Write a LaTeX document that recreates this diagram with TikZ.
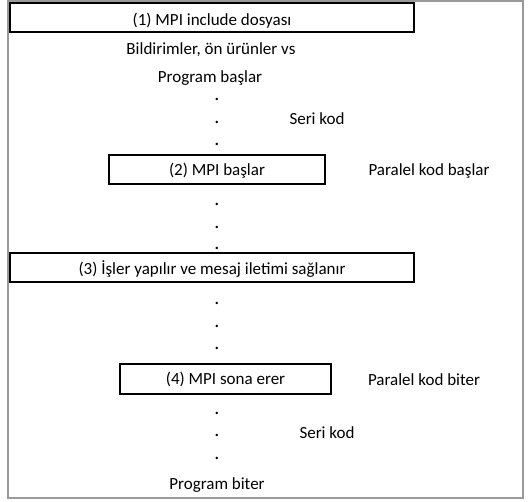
\documentclass[tikz,border=0pt]{standalone}
\usepackage{fontspec}
\setmainfont{Carlito}
\begin{document}
\begin{tikzpicture}[x=1pt,y=-1pt,
  every node/.style={font=\fontsize{17}{20}\selectfont, inner sep=0pt},
  stepbox/.style={draw=black, line width=1.6pt, minimum height=29pt, text depth=3pt},
  lbl/.style={anchor=center},
  dotn/.style={font=\fontsize{20}{20}\selectfont}]
\useasboundingbox (0,0) rectangle (529,502);
\draw[draw=gray!80, line width=1.3pt] (8,1) rectangle (523,498);
\node[stepbox, minimum width=404pt, text height=18.5pt] (b1) at (212,17.5) {(1) MPI include dosyası};
\node[lbl] (t1) at (211,50) {Bildirimler, ön ürünler vs};
\node[lbl] (t2) at (210,78) {Program başlar};
\node[dotn] (d1) at (217,99) {.};
\node[dotn] (d2) at (217,122) {.};
\node[dotn] (d3) at (217,144) {.};
\node[lbl] (s1) at (317,119) {Seri kod};
\node[stepbox, minimum width=216pt, text height=14.5pt] (b2) at (217,169.5) {(2) MPI başlar};
\node[lbl] (p1) at (429,171) {Paralel kod başlar};
\node[dotn] (d4) at (217,204) {.};
\node[dotn] (d5) at (217,227) {.};
\node[dotn] (d6) at (217,248) {.};
\node[stepbox, minimum width=404pt, text height=16.5pt] (b3) at (212,267.5) {(3) İşler yapılır ve mesaj iletimi sağlanır};
\node[dotn] (d7) at (217,303) {.};
\node[dotn] (d8) at (217,326) {.};
\node[dotn] (d9) at (217,348) {.};
\node[stepbox, minimum width=211pt, minimum height=30pt, text height=13.5pt] (b4) at (225.5,379) {(4) MPI sona erer};
\node[lbl] (p2) at (424,380) {Paralel kod biter};
\node[dotn] (d10) at (217,413) {.};
\node[dotn] (d11) at (217,435) {.};
\node[dotn] (d12) at (217,458) {.};
\node[lbl] (s2) at (327,433) {Seri kod};
\node[lbl] (t3) at (217,485) {Program biter};
\end{tikzpicture}
\end{document}
